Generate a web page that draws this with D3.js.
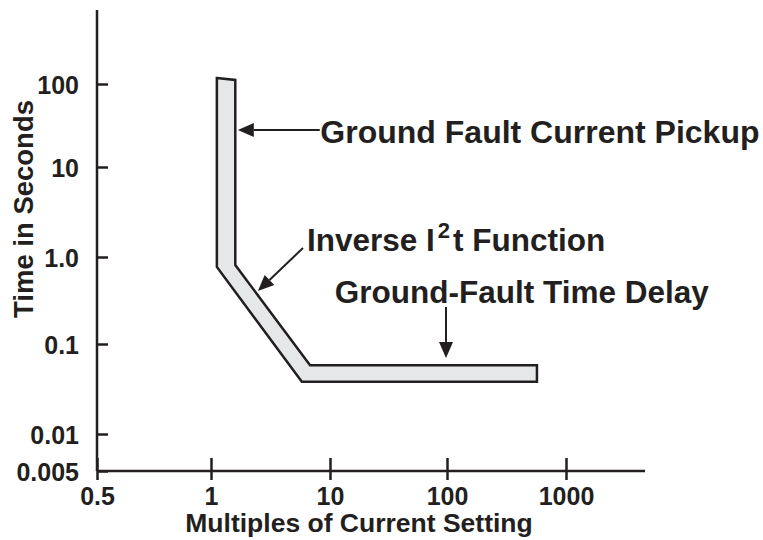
<!DOCTYPE html>
<html>
<head>
<meta charset="utf-8">
<script src="https://cdn.jsdelivr.net/npm/d3@7"></script>
<style>
  body { margin: 0; background: #fff; }
  text { font-family: "Liberation Sans", Arial, sans-serif; font-weight: bold; fill: #231f20; }
</style>
</head>
<body>
<svg id="chart" width="763" height="540"></svg>
<script>
// axis ticks
const xTicks = [0.5, 1, 10, 100, 1000];
const xTickLabels = ["0.5", "1", "10", "100", "1000"];
const yTicks = [0.005, 0.01, 0.1, 1, 10, 100];
const yTickLabels = ["0.005", "0.01", "0.1", "1.0", "10", "100"];

// trip band outline [multiple, seconds], clockwise from top-left
const bandPoints = [
    [1.12, 118], [1.6, 112], [1.6, 0.81], [6.8, 0.058], [570, 0.058],
    [570, 0.038], [5.8, 0.038], [1.12, 0.77]
];

// annotations: arrow tail -> tip, label anchor (all in data units)
const notes = [
    {label: "Ground Fault Current Pickup", from: [8.2, 27.9], to: [1.68, 27.9], at: [8.3, 19.5]},
    {label: "Inverse I2t Function", from: [5.93, 1.26], to: [2.48, 0.406], at: [6.4, 1.16]},
    {label: "Ground-Fault Time Delay", from: [98, 0.266], to: [98, 0.07], at: [11, 0.296]}
];

const svg = d3.select("#chart");
const ink = "#231f20";

// uneven decade spacing in the original, so piecewise log scales
const x = d3.scaleLog().domain(xTicks).range([97, 211, 330, 447, 566]);
const y = d3.scaleLog().domain(yTicks).range([471, 434, 344, 257, 167, 84]);

// band
svg.append("path")
    .attr("d", d3.line().x(d => x(d[0])).y(d => y(d[1]))(bandPoints) + "Z")
    .attr("fill", "#e6e7e8")
    .attr("stroke", ink)
    .attr("stroke-width", 2.5)
    .attr("stroke-linejoin", "miter");

// axes
const xAxis = svg.append("g")
    .attr("transform", "translate(0,471)")
    .call(d3.axisBottom(x).tickValues(xTicks).tickFormat((d, i) => xTickLabels[i]).tickSize(9).tickPadding(7));
xAxis.select(".domain").attr("d", "M97,0H645");

const yAxis = svg.append("g")
    .attr("transform", "translate(97,0)")
    .call(d3.axisLeft(y).tickValues(yTicks).tickFormat((d, i) => yTickLabels[i]).tickSize(11).tickPadding(7));
yAxis.select(".domain").attr("d", "M0,10V471");

xAxis.selectAll(".tick line").attr("y1", -13);
yAxis.selectAll(".tick line").attr("x2", 11);

[xAxis, yAxis].forEach(g => {
    g.selectAll(".domain, .tick line").attr("stroke", ink).attr("stroke-width", 2.5);
    g.selectAll("text")
        .attr("fill", ink)
        .style("font-size", "25px")
        .style("font-family", '"Liberation Sans", Arial, sans-serif')
        .style("font-weight", "bold");
});
yAxis.selectAll(".tick text").attr("dy", "0.38em");

// axis titles
svg.append("text")
    .attr("x", 359)
    .attr("y", 532)
    .attr("text-anchor", "middle")
    .style("font-size", "26.5px")
    .text("Multiples of Current Setting");

svg.append("text")
    .attr("transform", "translate(33,209) rotate(-90)")
    .attr("text-anchor", "middle")
    .style("font-size", "27.5px")
    .text("Time in Seconds");

// annotation arrows
notes.forEach(n => {
    const x0 = x(n.from[0]), y0 = y(n.from[1]);
    const x1 = x(n.to[0]), y1 = y(n.to[1]);
    const a = Math.atan2(y1 - y0, x1 - x0);
    const len = 16, half = 7;
    const bx = x1 - len * Math.cos(a), by = y1 - len * Math.sin(a);
    svg.append("line")
        .attr("x1", x0).attr("y1", y0)
        .attr("x2", bx).attr("y2", by)
        .attr("stroke", ink)
        .attr("stroke-width", 2);
    svg.append("polygon")
        .attr("points", [
            [x1, y1],
            [bx + half * Math.sin(a), by - half * Math.cos(a)],
            [bx - half * Math.sin(a), by + half * Math.cos(a)]
        ].map(p => p.join(",")).join(" "))
        .attr("fill", ink);

    const t = svg.append("text")
        .attr("x", x(n.at[0]))
        .attr("y", y(n.at[1]))
        .style("font-size", n.label.startsWith("Ground Fault") ? "32px" : "31.5px");
    if (n.label.includes("I2t")) {
        const parts = n.label.split("I2t");
        t.append("tspan").text(parts[0] + "I");
        t.append("tspan").attr("dx", 3).attr("dy", -13).style("font-size", "22px").text("2");
        t.append("tspan").attr("dx", 3).attr("dy", 13).text("t" + parts[1]);
    } else {
        t.text(n.label);
    }
});
</script>
</body>
</html>
